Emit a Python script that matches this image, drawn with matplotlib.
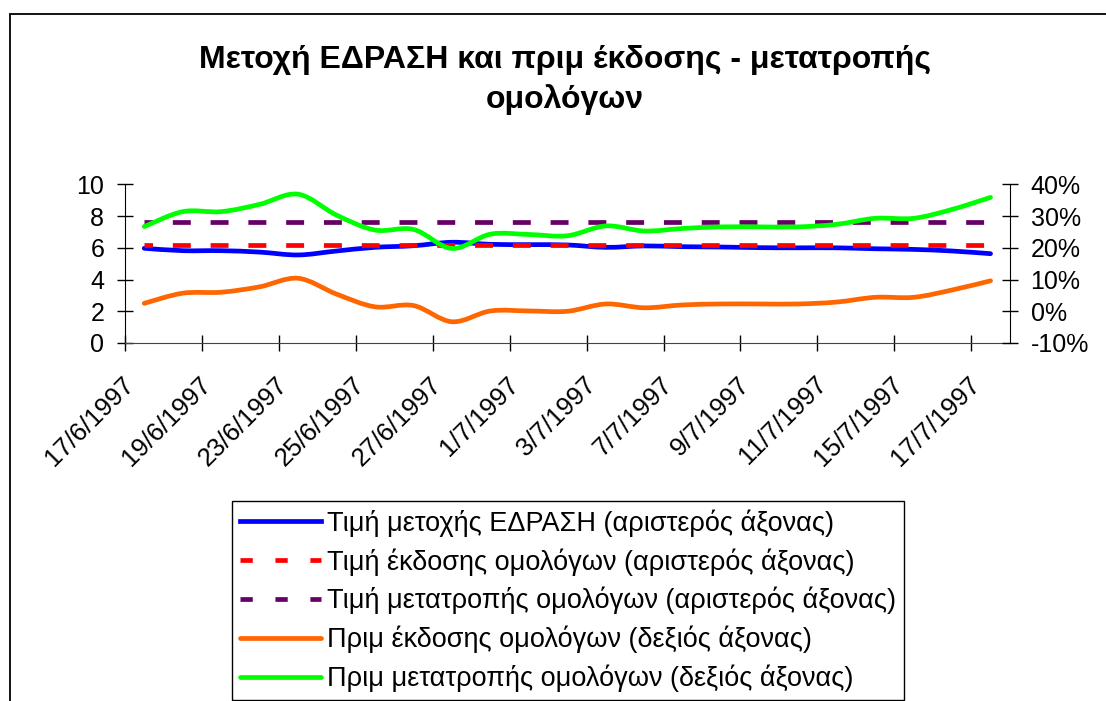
import matplotlib
matplotlib.use("Agg")
import matplotlib.pyplot as plt
from matplotlib.path import Path
from matplotlib.patches import PathPatch, Rectangle
from matplotlib.lines import Line2D
from matplotlib.ticker import FuncFormatter
import matplotlib.transforms as mtrans
import numpy as np

plt.rcParams['font.family'] = ['Liberation Sans', 'DejaVu Sans']

dates = ["17/6/1997", "18/6/1997", "19/6/1997", "20/6/1997", "23/6/1997", "24/6/1997",
         "25/6/1997", "26/6/1997", "27/6/1997", "30/6/1997", "1/7/1997", "2/7/1997",
         "3/7/1997", "4/7/1997", "7/7/1997", "8/7/1997", "9/7/1997", "10/7/1997",
         "11/7/1997", "14/7/1997", "15/7/1997", "16/7/1997", "17/7/1997"]

share_price = [5.97, 5.82, 5.82, 5.73, 5.55, 5.80, 6.03, 6.13, 6.35, 6.22, 6.20, 6.18,
               6.03, 6.12, 6.07, 6.05, 6.01, 6.00, 6.00, 5.94, 5.90, 5.80, 5.63]
issue_price = [6.2] * 23
conv_price = [7.65] * 23
issue_prem = [2.5, 5.7, 6.0, 7.7, 10.4, 5.4, 1.4, 1.8, -3.3, 0.1, 0.1, 0.0,
              2.3, 1.1, 2.0, 2.3, 2.3, 2.3, 2.9, 4.4, 4.4, 6.7, 9.6]
conv_prem = [26.7, 31.4, 31.4, 33.7, 36.9, 30.3, 25.6, 25.8, 19.8, 24.3, 24.2, 23.8,
             26.9, 25.3, 26.1, 26.6, 26.6, 26.6, 27.4, 29.3, 29.3, 32.1, 35.9]

labels = ["Τιμή μετοχής ΕΔΡΑΣΗ (αριστερός άξονας)",
          "Τιμή έκδοσης ομολόγων (αριστερός άξονας)",
          "Τιμή μετατροπής ομολόγων (αριστερός άξονας)",
          "Πριμ έκδοσης ομολόγων (δεξιός άξονας)",
          "Πριμ μετατροπής ομολόγων (δεξιός άξονας)"]
colors = ["#0000ff", "#ff0000", "#660066", "#ff6600", "#00ff00"]


def smooth_patch(ax, y, color, lw):
    # smoothed line like Excel: cubic bezier segments through the data points
    x = np.arange(len(y), dtype=float)
    y = np.asarray(y, dtype=float)
    px = np.concatenate([[x[0]], x, [x[-1]]])
    py = np.concatenate([[y[0]], y, [y[-1]]])
    verts = [(x[0], y[0])]
    codes = [Path.MOVETO]
    for i in range(len(x) - 1):
        c1 = (x[i] + (px[i + 2] - px[i]) / 6, y[i] + (py[i + 2] - py[i]) / 6)
        c2 = (x[i + 1] - (px[i + 3] - px[i + 1]) / 6, y[i + 1] - (py[i + 3] - py[i + 1]) / 6)
        verts += [c1, c2, (x[i + 1], y[i + 1])]
        codes += [Path.CURVE4] * 3
    ax.add_patch(PathPatch(Path(verts, codes), facecolor="none", edgecolor=color,
                           lw=lw, capstyle="round", joinstyle="round"))


fig = plt.figure(figsize=(11.06, 7.01), dpi=100)
ax = fig.add_axes([0.113, 0.5107, 0.80, 0.2263])
ax2 = ax.twinx()

lw = 3.4
x = np.arange(len(dates))
smooth_patch(ax, share_price, colors[0], lw)
dash = (2.0, (3.8, 4.2))
ax.plot(x, issue_price, color=colors[1], lw=lw, linestyle=dash)
ax.plot(x, conv_price, color=colors[2], lw=lw, linestyle=dash)
smooth_patch(ax2, issue_prem, colors[3], lw)
smooth_patch(ax2, conv_prem, colors[4], lw)

ax.set_xlim(-0.5, len(dates) - 0.5)
ax.set_ylim(0, 10)
ax2.set_ylim(-10, 40)
ax.set_yticks(range(0, 11, 2))
ax2.set_yticks(range(-10, 41, 10))
ax2.yaxis.set_major_formatter(FuncFormatter(lambda v, p: f"{v:.0f}%"))

ax.set_xticks(np.arange(-0.5, len(dates) - 1, 2))
ax.set_xticklabels([])
ax.set_xticks(x[::2], minor=True)
ax.set_xticklabels(dates[::2], minor=True, rotation=45, ha="right",
                   va="center", rotation_mode="anchor")
ax.tick_params(axis="x", which="minor", length=0, pad=27, labelsize=18.5)
ax.tick_params(axis="x", which="major", direction="inout", length=12, width=1)
ax.tick_params(axis="y", direction="inout", length=12, width=1, labelsize=18, pad=9)
ax2.tick_params(axis="y", direction="inout", length=12, width=1, labelsize=18, pad=9)
shift = mtrans.ScaledTranslation(-14 / 100, 0, fig.dpi_scale_trans)
for t in ax.get_xticklabels(minor=True):
    t.set_transform(t.get_transform() + shift)

for a in (ax, ax2):
    a.spines["top"].set_visible(False)
ax.spines["right"].set_visible(False)
ax2.spines["left"].set_visible(False)
ax2.spines["bottom"].set_visible(False)
ax.spines["bottom"].set_color("#444444")

fig.text(0.511, 1 - 80 / 701, "Μετοχή ΕΔΡΑΣΗ και πριμ έκδοσης - μετατροπής\nομολόγων",
         ha="center", va="center", fontsize=23, fontweight="bold", linespacing=1.4)

handles = [Line2D([], [], color=colors[0], lw=lw),
           Line2D([], [], color=colors[1], lw=lw, linestyle=(0, (2.6, 4.8))),
           Line2D([], [], color=colors[2], lw=lw, linestyle=(0, (2.6, 4.8))),
           Line2D([], [], color=colors[3], lw=lw, solid_capstyle="round"),
           Line2D([], [], color=colors[4], lw=lw, solid_capstyle="round")]
leg = fig.legend(handles, labels, loc="upper left",
                 bbox_to_anchor=(232 / 1106, 1 - 501 / 701), fontsize=19.5,
                 frameon=True, fancybox=False, edgecolor="black", framealpha=1,
                 handlelength=3.0, handletextpad=0.2, labelspacing=0.42,
                 borderpad=0.3, borderaxespad=0)
leg.get_frame().set_linewidth(1)

fig.add_artist(Rectangle((10 / 1106, -0.2), 1.2, 1.2 - 14 / 701,
                         transform=fig.transFigure, fill=False, lw=1.3,
                         edgecolor="black", clip_on=False))

fig.savefig("out.png", dpi=100)
